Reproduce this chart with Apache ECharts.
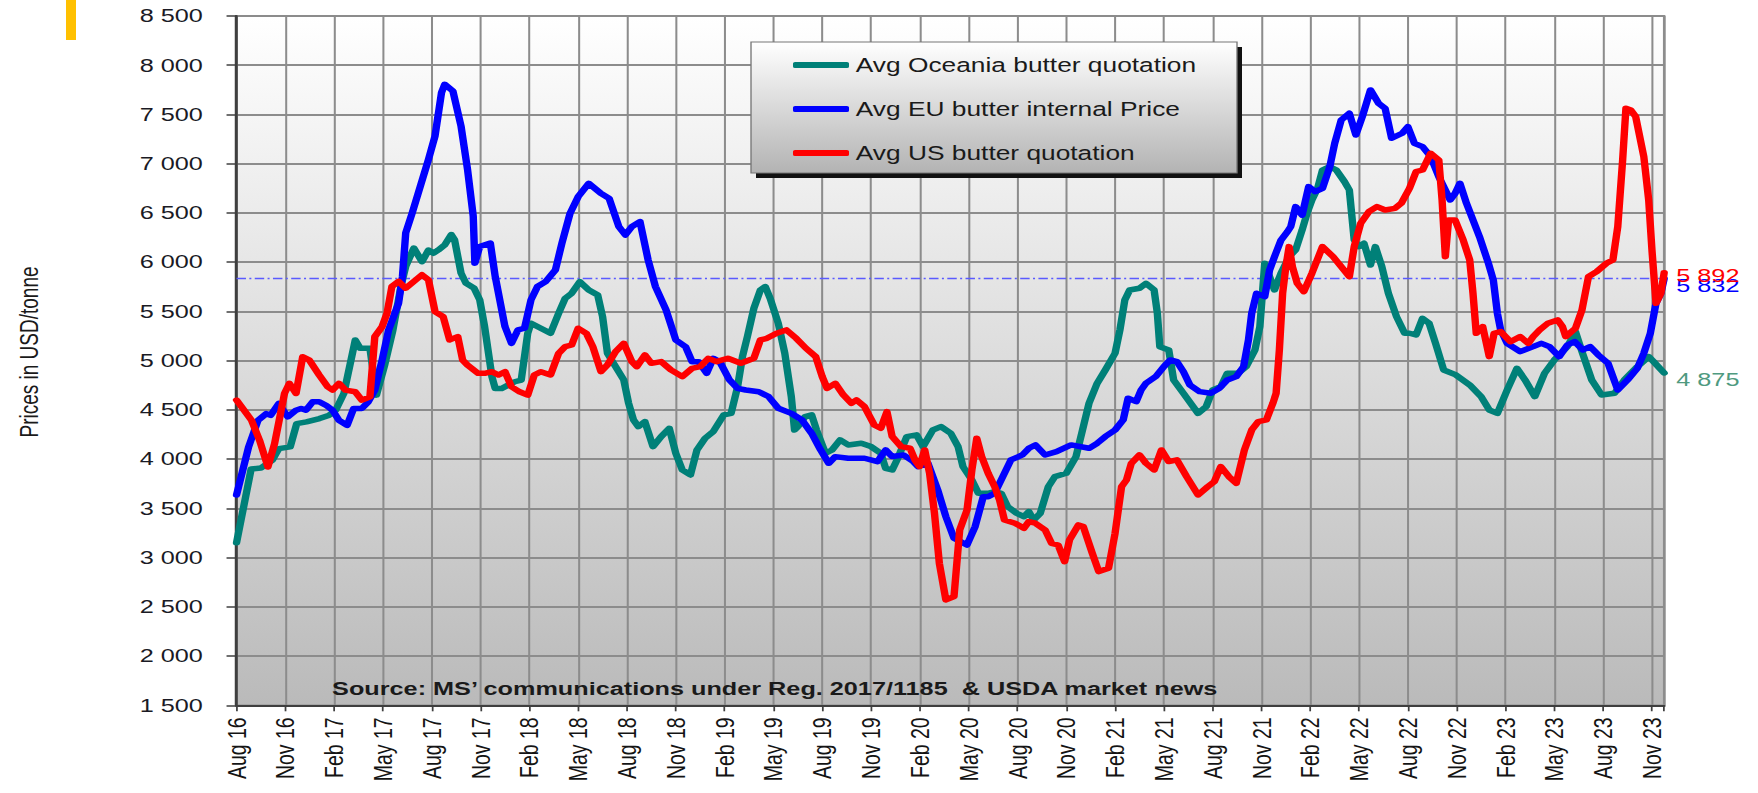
<!DOCTYPE html>
<html><head><meta charset="utf-8">
<script src="https://cdn.jsdelivr.net/npm/echarts@6/dist/echarts.min.js"></script>
<style>
html,body{margin:0;padding:0;background:#fff;overflow:hidden;width:1758px;height:793px;}
#chart{width:1302px;height:793px;transform:scaleX(1.35);transform-origin:0 0;}
</style></head><body><div id="chart"></div>
<script>
// x values are months counted from Aug 2016
const xTickLabels = ['Aug 16','Nov 16','Feb 17','May 17','Aug 17','Nov 17','Feb 18','May 18','Aug 18','Nov 18','Feb 19','May 19','Aug 19','Nov 19','Feb 20','May 20','Aug 20','Nov 20','Feb 21','May 21','Aug 21','Nov 21','Feb 22','May 22','Aug 22','Nov 22','Feb 23','May 23','Aug 23','Nov 23'];
const seriesNames = ['Avg Oceania butter quotation','Avg EU butter internal Price','Avg US butter quotation'];
const sourceText = 'Source: MS\u2019 communications under Reg. 2017/1185  & USDA market news';
const yTitle = 'Prices in USD/tonne';

const oceaniaMonths = [0,0.3,0.9,1.5,2.2,2.6,3.3,3.7,4.3,5.1,5.7,6.1,6.6,7.3,7.6,8.2,8.6,9.1,9.6,10.1,10.4,10.9,11.4,11.8,12.1,12.4,12.8,13.2,13.4,13.8,14.1,14.6,14.95,15.25,15.7,15.9,16.3,16.7,17.1,17.5,17.9,18.1,18.7,19.3,19.8,20.2,20.6,21.1,21.65,22.2,22.5,22.8,23.3,23.8,24.1,24.4,24.7,25.1,25.6,26.1,26.6,27.0,27.4,27.9,28.3,28.8,29.3,29.95,30.4,30.8,31.1,31.4,31.8,32.2,32.5,32.8,33.3,33.7,34.1,34.3,34.5,34.95,35.35,35.65,36.2,36.6,37.1,37.6,38.4,39.0,39.6,39.9,40.3,40.6,41.2,41.8,42.2,42.8,43.3,43.9,44.35,44.65,45.2,45.6,46.2,46.6,47.0,47.4,47.95,48.4,48.7,49.0,49.4,49.9,50.3,51.0,51.6,52.0,52.4,52.9,53.4,54.0,54.3,54.6,54.9,55.5,55.9,56.4,56.6,56.75,57.3,57.6,58.2,59.1,59.6,60.0,60.5,60.9,61.55,62.06,62.6,62.9,63.2,63.5,63.8,64.2,64.7,65.1,65.5,65.8,66.1,66.45,66.75,67.2,67.6,68.1,68.4,68.7,69.0,69.3,69.7,70.0,70.4,70.8,71.3,71.8,72.1,72.5,72.9,73.3,73.7,74.2,74.95,75.8,76.5,77.0,77.5,78.1,78.7,79.2,79.8,80.4,81.0,81.8,82.3,82.7,83.3,83.9,84.7,85.3,86.1,86.8,87.1,87.75];
const oceaniaValues = [3150,3400,3900,3910,3988,4107,4124,4361,4378,4412,4446,4497,4667,5210,5125,5125,4650,4950,5300,5750,5956,6143,6005,6123,6090,6123,6175,6280,6228,5889,5787,5736,5617,5345,4837,4717,4717,4752,4786,4803,5278,5380,5330,5278,5481,5633,5684,5802,5718,5667,5447,5075,4939,4804,4567,4398,4330,4381,4127,4229,4313,4059,3890,3839,4093,4212,4279,4449,4465,4736,5041,5244,5532,5718,5752,5633,5379,5075,4635,4296,4330,4432,4449,4296,4059,4093,4195,4144,4161,4127,4059,3907,3890,3992,4229,4246,4127,4296,4330,4262,4127,3924,3788,3653,3653,3670,3653,3518,3450,3416,3467,3382,3450,3721,3822,3856,4026,4296,4567,4770,4905,5075,5312,5616,5718,5735,5785,5718,5481,5142,5109,4804,4669,4465,4533,4702,4736,4872,4872,4939,5109,5346,5988,5853,5718,5887,6056,6124,6327,6496,6632,6750,6936,6970,6936,6818,6733,6225,6158,6192,5971,6158,5954,5684,5447,5278,5278,5261,5430,5380,5176,4905,4855,4753,4635,4499,4465,4702,4922,4804,4635,4872,5007,5142,5295,5092,4804,4652,4669,4804,4939,5041,4990,4875];

const euMonths = [0,0.75,1.32,1.83,2.1,2.6,3.15,3.66,3.97,4.27,4.68,5.08,5.49,5.9,6.3,6.8,7.2,7.7,8.1,8.5,8.95,9.35,9.96,10.2,10.4,10.8,11.3,11.8,12.2,12.6,12.8,13.3,13.8,14.2,14.55,14.65,14.95,15.6,15.9,16.5,16.9,17.3,17.7,18.1,18.5,19.0,19.6,20.0,20.5,21.0,21.65,22.4,22.9,23.5,23.9,24.3,24.8,25.3,25.75,26.4,27.0,27.6,28.0,28.4,28.9,29.3,29.7,30.3,30.8,31.3,32.1,32.7,33.3,34.1,34.75,35.35,35.9,36.4,36.8,37.6,38.6,39.4,39.9,40.3,41.0,41.6,41.9,42.5,43.1,43.6,44.1,44.9,45.4,45.9,46.2,46.6,47.1,47.6,48.3,48.7,49.1,49.7,50.4,51.3,52.4,52.9,53.4,54.0,54.5,54.8,55.3,55.6,55.9,56.5,57.0,57.4,57.8,58.2,58.6,59.2,59.9,60.4,60.9,61.45,61.9,62.2,62.4,62.7,63.2,63.5,63.8,64.2,64.6,64.8,65.1,65.5,65.9,66.3,66.75,67.2,67.5,67.9,68.4,68.8,69.2,69.7,70.2,70.6,71.0,71.65,72.0,72.4,72.9,73.4,73.9,74.6,74.9,75.2,75.6,76.0,76.4,76.95,77.25,77.5,77.7,78.1,78.9,79.7,80.2,80.7,81.3,81.8,82.25,82.75,83.2,83.7,84.3,84.9,85.5,86.1,86.5,86.9,87.25,87.55,87.75];
const euValues = [3636,4127,4394,4462,4445,4565,4429,4497,4514,4497,4582,4582,4548,4497,4394,4344,4514,4514,4582,4701,5006,5312,5583,5855,6297,6500,6772,7043,7280,7722,7806,7738,7382,6941,6466,5990,6160,6194,5855,5346,5176,5312,5329,5617,5753,5802,5921,6192,6496,6665,6801,6699,6649,6361,6276,6361,6412,6022,5752,5515,5210,5142,4990,4990,4872,5024,4990,4804,4719,4702,4685,4635,4516,4465,4398,4262,4093,3958,4025,4009,4009,3975,4093,4026,4042,3975,3924,3958,3687,3416,3196,3128,3315,3619,3619,3653,3822,3992,4042,4110,4144,4042,4076,4144,4110,4161,4229,4296,4398,4618,4584,4702,4770,4838,4939,5007,4990,4888,4753,4685,4669,4719,4804,4838,4939,5210,5481,5684,5650,5921,6056,6225,6310,6361,6564,6479,6767,6716,6750,6970,7207,7444,7512,7292,7478,7749,7613,7562,7258,7309,7376,7207,7173,7072,6868,6632,6699,6801,6598,6429,6259,5988,5819,5481,5312,5176,5092,5142,5176,5142,5041,5159,5193,5109,5142,5058,4973,4702,4804,4922,5075,5278,5583,5684,5832];

const usMonths = [0,0.92,1.42,1.93,2.34,2.95,3.25,3.66,4.07,4.47,5.08,5.6,5.9,6.3,6.7,7.3,7.7,8.2,8.5,8.95,9.25,9.55,9.96,10.4,10.9,11.4,11.8,12.2,12.7,13.1,13.6,13.9,14.2,14.85,15.25,15.7,16.1,16.5,16.9,17.4,17.9,18.3,18.7,19.3,19.8,20.2,20.6,21.0,21.5,21.9,22.4,22.8,23.3,23.8,24.3,24.6,25.1,25.5,26.1,26.7,27.4,28.0,28.5,29.0,29.5,30.2,31.0,31.8,32.2,32.6,33.2,33.8,34.4,35.0,35.6,36.0,36.3,36.8,37.3,37.8,38.1,38.6,39.2,39.6,39.98,40.3,40.85,41.4,41.7,41.98,42.3,42.6,42.9,43.2,43.6,44.1,44.45,44.9,45.2,45.5,45.8,46.2,46.6,46.9,47.2,47.85,48.4,48.7,49.1,49.7,50.1,50.5,50.9,51.2,51.75,52.05,52.6,53.0,53.6,54.0,54.4,54.7,55.0,55.5,55.9,56.4,56.85,57.3,57.8,58.4,59.1,59.7,60.1,60.5,61.0,61.45,61.95,62.4,62.8,63.3,63.7,63.9,64.1,64.3,64.5,64.7,64.9,65.2,65.6,66.1,66.75,67.4,67.9,68.4,68.7,69.1,69.6,70.1,70.6,71.2,71.6,72.1,72.5,72.9,73.4,73.9,74.1,74.3,74.5,74.9,75.4,75.8,76.0,76.2,76.6,77.0,77.3,77.7,78.3,78.9,79.4,79.7,80.1,80.6,81.2,81.5,81.7,82.3,82.7,83.1,83.6,84.2,84.6,84.9,85.2,85.4,85.7,86.0,86.5,86.8,87.0,87.25,87.55,87.75];
const usValues = [4600,4395,4190,3920,4157,4667,4769,4667,5040,5006,4854,4735,4701,4769,4701,4684,4599,4633,5244,5346,5481,5753,5804,5736,5804,5872,5821,5499,5448,5210,5244,5006,4955,4871,4871,4888,4854,4888,4735,4684,4650,4854,4888,4855,5075,5142,5159,5329,5278,5142,4889,4956,5092,5176,4990,4939,5058,4973,4990,4906,4838,4922,4939,5024,4990,5024,4973,5024,5210,5227,5278,5312,5227,5126,5041,4838,4719,4770,4652,4567,4601,4533,4347,4313,4482,4229,4127,4110,3992,3924,4093,3856,3450,2942,2570,2604,3281,3484,3890,4212,4026,3856,3721,3585,3382,3349,3298,3365,3349,3281,3145,3128,2959,3179,3332,3315,3044,2858,2892,3247,3721,3788,3958,4042,3958,3890,4093,3975,3992,3822,3636,3721,3771,3924,3822,3754,4093,4296,4381,4398,4567,4669,5109,5684,5955,6158,5955,5785,5701,5887,6158,6056,5955,5853,6158,6395,6513,6564,6530,6547,6600,6750,6919,6936,7106,7038,6632,6056,6429,6429,6225,6022,5684,5278,5346,5041,5278,5295,5193,5244,5176,5244,5312,5380,5414,5346,5244,5329,5515,5853,5904,5988,6022,6361,7038,7562,7546,7478,7072,6632,6124,5583,5684,5892];

const FONT = '"Liberation Sans", Arial, sans-serif';
function pairs(ms, vs) { return ms.map(function (m, i) { return [m, vs[i]]; }); }
function fmt(v) { return String(Math.round(v)).replace(/\B(?=(\d{3})+(?!\d))/g, ' '); }

const chart = echarts.init(document.getElementById('chart'), null, { renderer: 'svg' });

function lineSeries(name, ms, vs, color, labelColor, labelOffset, z) {
  return {
    type: 'line', name: name, data: pairs(ms, vs), symbol: 'none', showSymbol: false,
    z: z, lineStyle: { color: color, width: 5.5, cap: 'round', join: 'round' },
    itemStyle: { color: color },
    endLabel: { show: true, formatter: function (p) { return fmt(p.value[1]); },
      color: labelColor, fontFamily: FONT, fontSize: 18.7, distance: 9, offset: [0, labelOffset] },
    emphasis: { disabled: true }
  };
}

const blue = lineSeries(seriesNames[1], euMonths, euValues, '#0000ff', '#0000ff', 7, 3);
blue.markLine = {
  silent: true, symbol: 'none', label: { show: false }, z: 1,
  lineStyle: { color: '#5a5aff', width: 1.3, type: [7, 2.5, 1.5, 2.5] },
  data: [{ yAxis: euValues[euValues.length - 1] }]
};

const option = {
  animation: false,
  backgroundColor: '#ffffff',
  grid: {
    left: 175.2, right: 69.3, top: 16, bottom: 87.7, show: true,
    backgroundColor: { type: 'linear', x: 0, y: 0, x2: 0, y2: 1,
      colorStops: [{ offset: 0, color: '#ffffff' }, { offset: 1, color: '#bababa' }] },
    borderColor: '#8f8f8f', borderWidth: 1.8
  },
  legend: {
    orient: 'vertical', left: 587.4, top: 54, padding: 0,
    itemWidth: 41.5, itemHeight: 6, itemGap: 22, icon: 'roundRect', selectedMode: false,
    textStyle: { fontFamily: FONT, fontSize: 19.5, color: '#1a1a1a', lineHeight: 22 },
    data: seriesNames
  },
  xAxis: {
    type: 'value', min: 0, max: 87.75, interval: 3,
    axisLine: { show: true, onZero: false, lineStyle: { color: '#3f3f3f', width: 2.2 } },
    axisTick: { show: true, length: 6, lineStyle: { color: '#3f3f3f', width: 1.3 } },
    splitLine: { show: true, lineStyle: { color: '#8c8c8c', width: 1.5 } },
    axisLabel: {
      rotate: 90, margin: 12, fontFamily: FONT, fontSize: 19.5, color: '#141414',
      formatter: function (v) {
        const i = v / 3;
        return Math.abs(i - Math.round(i)) < 1e-6 ? (xTickLabels[Math.round(i)] || '') : '';
      }
    }
  },
  yAxis: {
    type: 'value', min: 1500, max: 8500, interval: 500,
    axisLine: { show: true, lineStyle: { color: '#3f3f3f', width: 2.2 } },
    axisTick: { show: true, length: 7.4, lineStyle: { color: '#3f3f3f', width: 1.5 } },
    splitLine: { show: true, lineStyle: { color: '#8c8c8c', width: 2 } },
    axisLabel: { margin: 25, fontFamily: FONT, fontSize: 18.7, color: '#1a1a24', formatter: fmt }
  },
  graphic: [
    { type: 'rect', z: 3, shape: { x: 48.9, y: 0, width: 7.4, height: 40 }, style: { fill: '#ffc000' } },
    { type: 'text', z: 3, x: 21.5, y: 352, rotation: Math.PI / 2,
      style: { text: yTitle, fill: '#1a1a1a', fontFamily: FONT, fontSize: 19, align: 'center', verticalAlign: 'middle' } },
    { type: 'rect', z: 3, shape: { x: 560, y: 47, width: 360, height: 131 }, style: { fill: '#111111' } },
    { type: 'rect', z: 3, shape: { x: 556.3, y: 42, width: 360, height: 131 },
      style: { fill: { type: 'linear', x: 0, y: 0, x2: 0, y2: 1,
        colorStops: [{ offset: 0, color: '#ffffff' }, { offset: 1, color: '#b3b3b3' }] },
        stroke: '#777777', lineWidth: 1 } },
    { type: 'text', z: 5, x: 246, y: 689,
      style: { text: sourceText, fill: '#1a1a1a', fontFamily: FONT, fontWeight: 'bold', fontSize: 18.7, align: 'left', verticalAlign: 'middle' } }
  ],
  series: [
    lineSeries(seriesNames[0], oceaniaMonths, oceaniaValues, '#008078', '#4f9a80', 7, 2),
    blue,
    lineSeries(seriesNames[2], usMonths, usValues, '#ff0000', '#ff0000', 3, 4)
  ]
};
chart.setOption(option);
</script></body></html>
